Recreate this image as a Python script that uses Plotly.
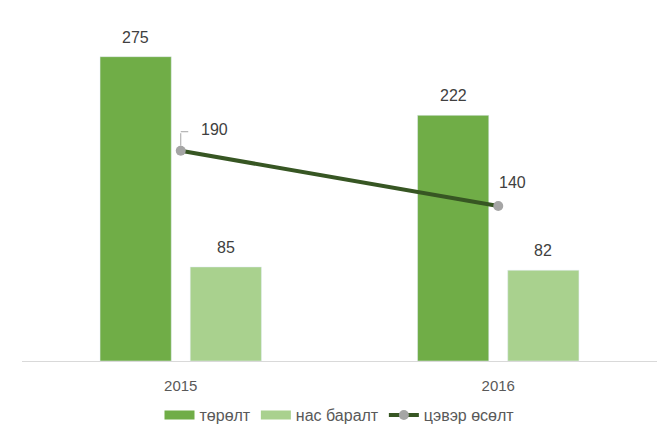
import plotly.graph_objects as go

years = ["2015", "2016"]
births = [275, 222]
deaths = [85, 82]
net_growth = [190, 140]

FONT = "Liberation Sans, Arial, sans-serif"
TXT = "#404040"
C_BIRTH, C_DEATH, C_LINE, C_MARK = "#70AD47", "#A9D18E", "#375623", "#A5A5A5"

fig = go.Figure()

fig.add_trace(go.Bar(
    x=years, y=births, name="төрөлт", showlegend=False,
    marker={"color": C_BIRTH},
))
fig.add_trace(go.Bar(
    x=years, y=deaths, name="нас баралт", showlegend=False,
    marker={"color": C_DEATH},
))
# legend-only entries so the swatches are wide rectangles like the original
for name, col in (("төрөлт", C_BIRTH), ("нас баралт", C_DEATH)):
    fig.add_trace(go.Scatter(
        x=[None], y=[None], name=name, mode="lines",
        line={"color": col, "width": 9},
    ))
fig.add_trace(go.Scatter(
    x=years, y=net_growth, name="цэвэр өсөлт",
    mode="lines+markers",
    line={"color": C_LINE, "width": 4},
    marker={"color": C_MARK, "size": 10},
))

# bar value labels (category axis -> use category index for x)
for i in range(len(years)):
    for vals, shift in ((births, -45), (deaths, 45)):
        fig.add_annotation(
            x=i, y=vals[i], text=str(vals[i]), showarrow=False,
            xshift=shift, yshift=9, yanchor="bottom",
            font={"size": 16, "color": TXT, "family": FONT},
        )

# line value labels
fig.add_annotation(
    x=0, y=net_growth[0], text=str(net_growth[0]), showarrow=False,
    xshift=34, yshift=21, font={"size": 16, "color": TXT, "family": FONT},
)
fig.add_annotation(
    x=1, y=net_growth[1], text=str(net_growth[1]), showarrow=False,
    xshift=14, yshift=24, font={"size": 16, "color": TXT, "family": FONT},
)
# elbow leader line for the 2015 label
fig.add_annotation(
    x=0, y=net_growth[0], text="", showarrow=True,
    ax=0, ay=-19, arrowhead=0, arrowwidth=1, arrowcolor=C_MARK, standoff=5,
)
fig.add_annotation(
    x=0, y=net_growth[0], text="", showarrow=True, yshift=19,
    ax=9, ay=0, arrowhead=0, arrowwidth=1, arrowcolor=C_MARK,
)

fig.update_layout(
    width=669, height=434,
    margin={"l": 14, "r": 20, "t": 21, "b": 81, "autoexpand": False},
    plot_bgcolor="white", paper_bgcolor="white",
    barmode="group", bargap=0.432, bargroupgap=0.21,
    font={"family": FONT, "size": 15, "color": "#595959"},
    showlegend=True,
    legend={
        "orientation": "h", "x": 0.5, "xanchor": "center",
        "yref": "container", "y": 0.062, "yanchor": "middle",
        "font": {"size": 16, "color": "#595959"},
        "itemwidth": 30, "tracegroupgap": 0,
    },
    xaxis={
        "type": "category", "range": [-0.5, 1.5],
        "showline": True, "linecolor": "#D9D9D9", "linewidth": 1,
        "ticks": "", "ticklabelstandoff": 11,
        "tickfont": {"size": 15, "color": "#595959"},
    },
    yaxis={
        "range": [0, 300], "showgrid": False, "showticklabels": False,
        "zeroline": False,
    },
)

fig.write_html("out.html")
